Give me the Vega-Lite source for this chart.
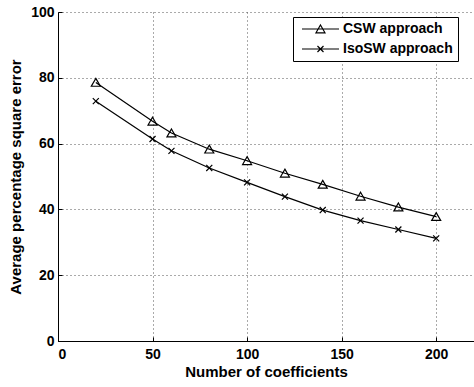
{
  "$schema": "https://vega.github.io/schema/vega-lite/v6.json",
  "width": 416,
  "height": 329,
  "autosize": {"type": "none"},
  "padding": {"left": 58, "top": 12, "right": 0, "bottom": 46},
  "background": "white",
  "config": {
    "view": {"stroke": null},
    "font": "Liberation Sans",
    "axis": {
      "domainColor": "black",
      "domainWidth": 1,
      "tickColor": "black",
      "tickSize": -4,
      "labelFont": "Liberation Sans",
      "labelFontWeight": "bold",
      "labelFontSize": 14,
      "labelColor": "black",
      "titleFont": "Liberation Sans",
      "titleFontWeight": "bold",
      "titleFontSize": 15,
      "titleColor": "black",
      "gridColor": "#555555",
      "gridDash": [1, 3],
      "gridOpacity": 1,
      "gridWidth": 1
    }
  },
  "data": {
    "values": [
      {"series": "CSW approach", "coef": 20, "err": 78.6},
      {"series": "CSW approach", "coef": 50, "err": 66.8},
      {"series": "CSW approach", "coef": 60, "err": 63.2},
      {"series": "CSW approach", "coef": 80, "err": 58.3},
      {"series": "CSW approach", "coef": 100, "err": 54.8},
      {"series": "CSW approach", "coef": 120, "err": 51.0},
      {"series": "CSW approach", "coef": 140, "err": 47.6},
      {"series": "CSW approach", "coef": 160, "err": 44.0},
      {"series": "CSW approach", "coef": 180, "err": 40.7},
      {"series": "CSW approach", "coef": 200, "err": 37.8},
      {"series": "IsoSW approach", "coef": 20, "err": 72.9},
      {"series": "IsoSW approach", "coef": 50, "err": 61.4},
      {"series": "IsoSW approach", "coef": 60, "err": 57.8},
      {"series": "IsoSW approach", "coef": 80, "err": 52.6},
      {"series": "IsoSW approach", "coef": 100, "err": 48.2},
      {"series": "IsoSW approach", "coef": 120, "err": 43.9},
      {"series": "IsoSW approach", "coef": 140, "err": 39.8},
      {"series": "IsoSW approach", "coef": 160, "err": 36.6},
      {"series": "IsoSW approach", "coef": 180, "err": 33.9},
      {"series": "IsoSW approach", "coef": 200, "err": 31.2}
    ]
  },
  "encoding": {
    "x": {
      "field": "coef",
      "type": "quantitative",
      "scale": {"domain": [0, 220], "nice": false, "zero": false},
      "axis": {"values": [0, 50, 100, 150, 200], "title": "Number of coefficients", "labelPadding": 10, "titlePadding": 3}
    },
    "y": {
      "field": "err",
      "type": "quantitative",
      "scale": {"domain": [0, 100], "nice": false},
      "axis": {"values": [0, 20, 40, 60, 80, 100], "title": "Average percentage square error", "labelPadding": 8, "titlePadding": 7}
    }
  },
  "resolve": {"scale": {"shape": "independent"}, "legend": {"shape": "independent"}},
  "layer": [
    {
      "mark": {"type": "line", "color": "black", "strokeWidth": 1.2},
      "encoding": {"detail": {"field": "series"}}
    },
    {
      "mark": {"type": "point", "filled": false, "stroke": "black", "strokeWidth": 1.2, "opacity": 1, "size": 81},
      "encoding": {
        "shape": {
          "field": "series",
          "type": "nominal",
          "scale": {
            "domain": ["CSW approach", "IsoSW approach"],
            "range": ["M0,-0.9L1,0.85L-1,0.85Z", "M-0.67,-0.67L0.67,0.67M-0.67,0.67L0.67,-0.67"]
          },
          "legend": null
        }
      }
    },
    {
      "mark": {"type": "point", "filled": false, "stroke": "black", "strokeWidth": 1.2, "opacity": 0, "size": 81},
      "encoding": {
        "shape": {
          "field": "series",
          "type": "nominal",
          "scale": {
            "domain": ["CSW approach", "IsoSW approach"],
            "range": ["M-0.67,0L7.56,0M3.44,-0.9L4.44,0.85L2.44,0.85Z", "M-0.67,0L7.56,0M2.77,-0.67L4.11,0.67M2.77,0.67L4.11,-0.67"]
          },
          "legend": {
            "title": null,
            "orient": "none",
            "legendX": 235,
            "legendY": 5,
            "padding": 5,
            "rowPadding": 6,
            "strokeColor": "black",
            "fillColor": "white",
            "cornerRadius": 0,
            "symbolSize": 81,
            "symbolOpacity": 1,
            "symbolStrokeWidth": 1.2,
            "symbolStrokeColor": "black",
            "symbolFillColor": "transparent",
            "labelFont": "Liberation Sans",
            "labelFontWeight": "bold",
            "labelFontSize": 14,
            "labelColor": "black",
            "labelOffset": 31,
            "encode": {
              "symbols": {
                "update": {
                  "opacity": {"value": 1},
                  "fill": {"value": "transparent"},
                  "stroke": {"value": "black"},
                  "strokeWidth": {"value": 1.2}
                }
              }
            }
          }
        }
      }
    }
  ]
}
